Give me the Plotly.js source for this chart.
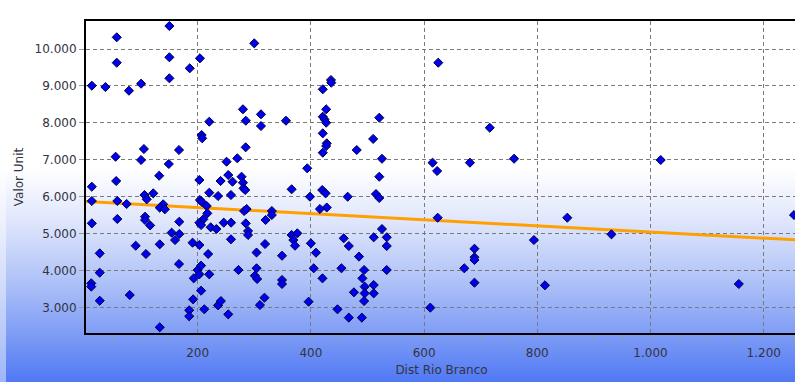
<!DOCTYPE html>
<html>
<head>
<meta charset="utf-8">
<script src="https://cdn.plot.ly/plotly-3.0.1.min.js"></script>
<style>
  html, body { margin: 0; padding: 0; width: 795px; height: 382px; overflow: hidden; }
  body { background: linear-gradient(to bottom, #ffffff 0%, #ffffff 44%, #dfe6fc 58%, #b4c6f8 72%, #7d9bf5 88%, #4f78f4 100%); position: relative; }
  #strip { position: absolute; left: 0; top: 0; width: 6px; height: 382px; background: rgba(255,255,255,0.45); }
  #chart { position: absolute; left: 0; top: 0; width: 800px; height: 382px; }
</style>
</head>
<body>
<div id="strip"></div>
<div id="chart"></div>
<script>
// Distance to Rio Branco (x) and unit value (y) of each observation
const distRioBranco = [
  13, 13, 13, 13, 12, 12,
  27, 27, 27,
  37,
  57, 57, 55, 56, 58, 58,
  74.5, 78.6, 80, 90.5,
  100, 100,
  105, 106, 110, 107, 107, 116, 108.6, 121.5,
  132, 133, 133, 139, 133, 142,
  150, 150, 150, 149,
  154, 160, 167.5, 167, 167.5, 167,
  186, 185, 185, 192, 193, 191,
  204, 207, 208, 203, 204, 207, 210, 203, 206, 203, 200, 206, 203, 206, 211.7,
  216, 217, 223, 220.5, 220.5, 218.5, 220.5,
  236, 233, 240.5, 236, 241,
  251, 254, 261.5, 258.8, 246, 259, 258.8, 254, 270,
  272,
  280, 285, 284.8, 277.5, 280, 281, 284, 282, 286.5, 285, 289, 289,
  300,
  304, 304, 301, 305, 310, 311.8, 311.8, 318, 319, 320,
  331, 331,
  349, 349, 349, 356,
  366, 366, 376, 369, 372,
  393.5, 398.4, 400, 409, 405, 396,
  421, 435.5, 436, 427, 421, 424, 427, 421, 428, 427, 421, 420, 426, 428, 416, 420.5,
  447, 454, 458, 467, 467, 465,
  476, 481, 485, 490, 491, 494, 495, 495, 494,
  510, 511, 511, 511, 515, 520.8, 520.8, 520.8, 525.6, 525.6, 534, 534, 534,
  611, 615, 623, 624, 625, 671, 681, 689, 689, 689, 689, 716, 759, 794, 813.5, 853, 931, 1018, 1156, 1253.5
];
const valorUnit = [
  9006, 6268, 5881, 5276, 3650, 3560,
  4463, 3938, 3179,
  8970,
  10317, 9629, 7081, 6423, 5881, 5393,
  5800, 8870, 3333, 4669,
  9060, 6992,
  7290, 6043, 5927, 5455, 5366, 5220, 4444, 6089,
  6566, 4707, 2458, 5791, 5700, 5656,
  10623, 9775, 9206, 6884,
  5022, 4823, 4986, 7263, 5320, 4173,
  9477, 2920, 2758, 3216, 3785, 4751,
  9748, 7669, 7580, 6450, 5908, 5862, 5385, 5294, 5230, 4688, 4011, 4130, 3894, 3450, 2947,
  5745, 5547, 5168, 8030, 6106, 4444, 3894,
  6016, 5122, 6423, 3054, 3170,
  6946, 6585, 6404, 6043, 5294, 5294, 4843, 2810, 7038,
  4011,
  8366, 8057, 7336, 6539, 6377, 6225, 6179, 5610, 5664, 5276, 5068, 4960,
  10154,
  4485, 4057, 3856, 3767, 3062, 8230, 7913, 3260, 4715, 5366,
  5610, 5501,
  4398, 3740, 3632, 8057,
  6198, 4960, 5005, 4823, 4669,
  6767, 5997, 4734, 4480, 4057, 3152,
  8908, 9160, 9087, 8366, 8165, 8095, 8003, 7715, 7444, 7371, 7190, 6179, 6089, 5705, 5664, 3785,
  2946, 4057, 4870, 4661, 2720, 5997,
  3406, 7263, 4374, 2720, 3785, 4011, 3560, 3378, 3170,
  7563, 3604, 3378, 4897, 6070, 8138, 6539, 5962, 7025, 5122, 4897, 4661, 4011,
  2991, 6919, 6694, 5428, 9629, 4057, 6919, 4588, 4355, 4282, 3667, 7867, 7027, 4823, 3596, 5428, 4978, 6992, 3632, 5501
];
// Fitted trend line (end points)
const trendX = [0, 1260];
const trendY = [5870, 4825];

const xTitle = 'Dist Rio Branco';
const yTitle = 'Valor Unit';

const tickFont = { family: 'DejaVu Sans, Verdana, sans-serif', size: 12, color: '#333340' };

const traces = [
  {
    type: 'scatter', mode: 'lines', x: trendX, y: trendY,
    line: { color: '#ffa000', width: 3 }, hoverinfo: 'skip', showlegend: false
  },
  {
    type: 'scatter', mode: 'markers', x: distRioBranco, y: valorUnit,
    marker: { symbol: 'diamond', size: 7, color: '#0000f0', line: { color: '#000040', width: 1 } },
    showlegend: false
  }
];

const layout = {
  width: 800, height: 382,
  margin: { l: 86, r: 3, t: 21, b: 49, pad: 0 },
  paper_bgcolor: 'rgba(0,0,0,0)',
  plot_bgcolor: 'rgba(0,0,0,0)',
  separators: ',.',
  font: tickFont,
  showlegend: false,
  xaxis: {
    range: [2.7, 1258.8],
    tick0: 0, dtick: 200,
    tickformat: ',d',
    showgrid: true, gridcolor: '#7a7a7a', gridwidth: 1, griddash: '4px,3px',
    zeroline: false,
    showline: true, linecolor: '#000000', linewidth: 2, mirror: true,
    ticks: 'outside', ticklen: 4, tickcolor: '#999999', tickwidth: 1,
    ticklabelstandoff: 4,
    minor: { dtick: 50, ticks: 'outside', ticklen: 4, tickcolor: '#999999', showgrid: false },
    tickfont: tickFont,
    title: { text: xTitle, font: tickFont, standoff: 6 }
  },
  yaxis: {
    range: [2304, 10759],
    tick0: 0, dtick: 1000,
    tickformat: ',d',
    showgrid: true, gridcolor: '#7a7a7a', gridwidth: 1, griddash: '4px,3px',
    zeroline: false,
    showline: true, linecolor: '#000000', linewidth: 2, mirror: true,
    ticks: 'outside', ticklen: 5, tickcolor: '#999999', tickwidth: 1,
    tickfont: tickFont,
    title: { text: yTitle, font: tickFont, standoff: 8 }
  }
};

Plotly.newPlot('chart', traces, layout, { displayModeBar: false, staticPlot: true });
</script>
</body>
</html>
